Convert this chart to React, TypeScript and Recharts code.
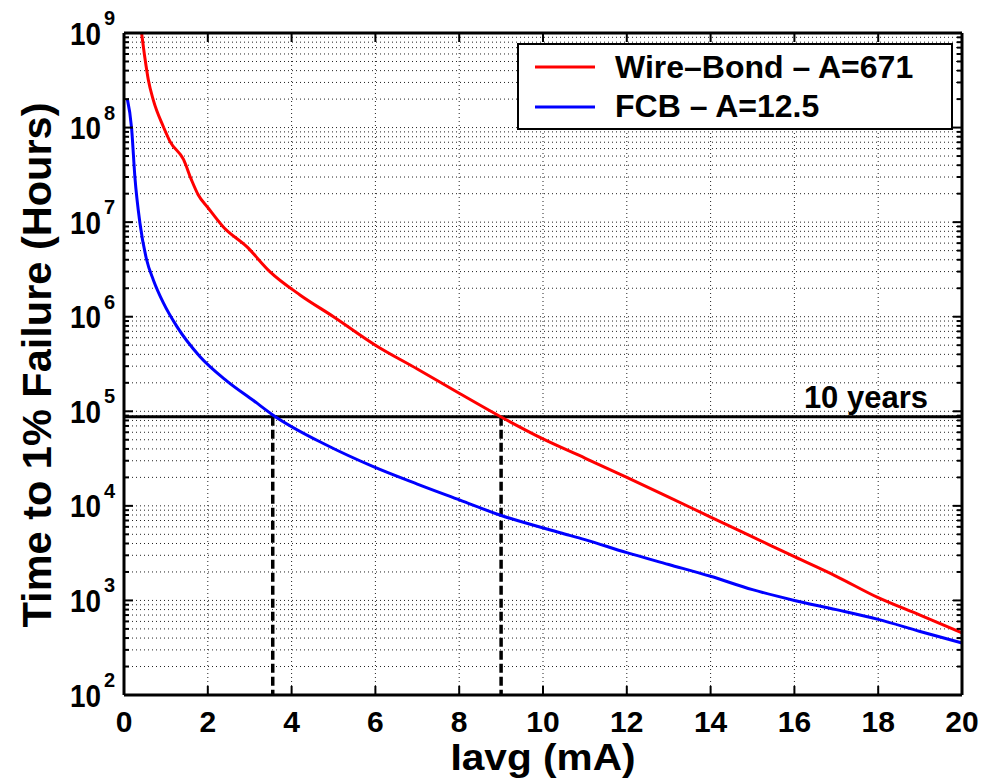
import React from 'react';
import { LineChart, Line, XAxis, YAxis, CartesianGrid, ReferenceLine, Legend } from 'recharts';

// Wire-Bond (A=671) curve
const wireBondCurrent = [0.42, 0.5, 0.58, 0.7, 0.94, 1.1, 1.42, 1.61, 1.77, 2.01, 2.37, 2.93, 3.48, 4.2, 5, 6, 7, 8, 9, 10, 11, 12, 13, 14, 15, 16, 17, 18, 19, 20];
const wireBondHours = [1e9, 5.4e8, 3.2e8, 1.95e8, 1.02e8, 7.1e7, 4.6e7, 2.8e7, 1.95e7, 1.41e7, 8.9e6, 5.5e6, 3.0e6, 1.7e6, 1.0e6, 5.0e5, 2.8e5, 1.55e5, 8.7e4, 5.1e4, 3.2e4, 2.0e4, 1.24e4, 7.6e3, 4.7e3, 2.9e3, 1.8e3, 1.07e3, 700, 454];

// FCB (A=12.5) curve
const fcbCurrent = [0.08, 0.18, 0.26, 0.38, 0.54, 0.7, 0.94, 1.26, 1.81, 2.45, 3.09, 3.56, 4.83, 5.95, 7, 8.02, 8.97, 10.41, 11, 12, 13, 14, 15, 16, 17, 18, 19, 20];
const fcbHours = [2.0e8, 1.0e8, 3.0e7, 9.8e6, 4.0e6, 2.45e6, 1.4e6, 7.9e5, 3.8e5, 2.1e5, 1.3e5, 9.1e4, 4.4e4, 2.6e4, 1.7e4, 1.15e4, 8.0e3, 5.2e3, 4.4e3, 3.2e3, 2.4e3, 1.8e3, 1.3e3, 1.0e3, 800, 630, 470, 355];

const seriesNames = ['Wire–Bond – A=671', 'FCB – A=12.5'];
const xTicks = [0, 2, 4, 6, 8, 10, 12, 14, 16, 18, 20];
const decades = [2, 3, 4, 5, 6, 7, 8, 9];
const minorSteps = [1, 2, 3, 4, 5, 6, 7, 8, 9];
const tenYearsHours = 87600;
const crossingCurrents = [3.55, 9.0];

const yTicks = decades.flatMap((d) => (d === 9 ? [1e9] : minorSteps.map((k) => k * 10 ** d)));

const wireBondData = wireBondCurrent.map((x, i) => ({ x, y: wireBondHours[i] }));
const fcbData = fcbCurrent.map((x, i) => ({ x, y: fcbHours[i] }));

const FONT = '"Liberation Sans", Arial, Helvetica, sans-serif';

const isDecade = (v: number) => {
  const e = Math.round(Math.log10(v));
  return Math.abs(v - 10 ** e) < v * 1e-6;
};

const LeftTick = ({ x, y, payload }: any) => {
  const v = payload.value;
  const major = isDecade(v);
  const exp = Math.round(Math.log10(v));
  return (
    <g>
      <line x1={x} x2={x + (major ? 9 : 5)} y1={y} y2={y} stroke="#000" strokeWidth={2} />
      {major && (
        <g fontFamily={FONT} fontWeight="bold" fill="#000">
          <text x={x - 23} y={y + 1} textAnchor="end" dominantBaseline="central" fontSize={31} textLength={31} lengthAdjust="spacingAndGlyphs">
            10
          </text>
          <text x={x - 20} y={y - 15} dominantBaseline="central" fontSize={20}>
            {exp}
          </text>
        </g>
      )}
    </g>
  );
};

const RightTick = ({ x, y, payload }: any) => {
  const major = isDecade(payload.value);
  return <line x1={x} x2={x - (major ? 9 : 5)} y1={y} y2={y} stroke="#000" strokeWidth={2} />;
};

const BottomTick = ({ x, y, payload }: any) => (
  <g>
    <line x1={x} x2={x} y1={y} y2={y - 9} stroke="#000" strokeWidth={2} />
    <text x={x} y={y + 26} textAnchor="middle" dominantBaseline="central" fontFamily={FONT} fontWeight="bold" fontSize={30} fill="#000">
      {payload.value}
    </text>
  </g>
);

const TopTick = ({ x, y }: any) => <line x1={x} x2={x} y1={y} y2={y + 9} stroke="#000" strokeWidth={2} />;

const renderLegend = ({ payload }: any) => {
  const items = [...(payload || [])].sort((a: any, b: any) => seriesNames.indexOf(a.value) - seriesNames.indexOf(b.value));
  return (
    <svg width={436} height={87} style={{ display: 'block' }}>
      <rect x={1} y={1} width={434} height={85} fill="#fff" stroke="#000" strokeWidth={2} />
      {items.map((entry: any, i: number) => (
        <g key={entry.value}>
          <line x1={18} x2={78} y1={24 + i * 40} y2={24 + i * 40} stroke={entry.color} strokeWidth={3} />
          <text x={98} y={35 + i * 39} fontFamily={FONT} fontWeight="bold" fontSize={32} fill="#000">
            {entry.value}
          </text>
        </g>
      ))}
    </svg>
  );
};

export default function App() {
  return (
    <div style={{ width: 980, height: 772, background: '#fff' }}>
      <LineChart width={980} height={772} margin={{ top: 0, right: 0, bottom: 0, left: 0 }}>
        <CartesianGrid stroke="#222" strokeDasharray="1 3" strokeWidth={1} />
        <XAxis
          dataKey="x"
          type="number"
          domain={[0, 20]}
          ticks={xTicks}
          interval={0}
          allowDataOverflow
          height={85}
          tickSize={0}
          tickMargin={0}
          tick={<BottomTick />}
          axisLine={{ stroke: '#000', strokeWidth: 3 }}
          label={{
            content: ({ viewBox }: any) => (
              <text
                x={viewBox.x + viewBox.width / 2}
                y={viewBox.y + 75}
                textAnchor="middle"
                fontFamily={FONT}
                fontWeight="bold"
                fontSize={36}
                textLength={185}
                lengthAdjust="spacingAndGlyphs"
                fill="#000"
              >
                Iavg (mA)
              </text>
            ),
          }}
        />
        <XAxis
          xAxisId="top"
          orientation="top"
          dataKey="x"
          type="number"
          domain={[0, 20]}
          ticks={xTicks}
          interval={0}
          allowDataOverflow
          height={25}
          tickSize={0}
          tickMargin={0}
          tick={<TopTick />}
          axisLine={{ stroke: '#000', strokeWidth: 3 }}
        />
        <YAxis
          scale="log"
          type="number"
          domain={[100, 1e9]}
          ticks={yTicks}
          interval={0}
          allowDataOverflow
          width={116}
          tickSize={0}
          tickMargin={0}
          tick={<LeftTick />}
          axisLine={{ stroke: '#000', strokeWidth: 3 }}
          label={{
            content: ({ viewBox }: any) => {
              const cx = 43;
              const cy = viewBox.y + viewBox.height / 2 + 1;
              return (
                <text
                  x={cx}
                  y={cy}
                  transform={`rotate(-90, ${cx}, ${cy})`}
                  textAnchor="middle"
                  fontFamily={FONT}
                  fontWeight="bold"
                  fontSize={40}
                  textLength={525}
                  lengthAdjust="spacingAndGlyphs"
                  fill="#000"
                >
                  Time to 1% Failure (Hours)
                </text>
              );
            },
          }}
        />
        <YAxis
          yAxisId="right"
          orientation="right"
          scale="log"
          type="number"
          domain={[100, 1e9]}
          ticks={yTicks}
          interval={0}
          allowDataOverflow
          width={26}
          tickSize={0}
          tickMargin={0}
          tick={<RightTick />}
          axisLine={{ stroke: '#000', strokeWidth: 3 }}
        />
        <ReferenceLine
          y={tenYearsHours}
          stroke="#000"
          strokeWidth={3}
          label={{
            content: ({ viewBox }: any) => (
              <text
                x={viewBox.x + viewBox.width - 34}
                y={viewBox.y - 9}
                textAnchor="end"
                fontFamily={FONT}
                fontWeight="bold"
                fontSize={31}
                fill="#000"
              >
                10 years
              </text>
            ),
          }}
        />
        {crossingCurrents.map((c) => (
          <ReferenceLine
            key={c}
            segment={[
              { x: c, y: tenYearsHours },
              { x: c, y: 100 },
            ]}
            stroke="#000"
            strokeWidth={3.5}
            strokeDasharray="9 4"
          />
        ))}
        <Line
          data={wireBondData}
          dataKey="y"
          name={seriesNames[0]}
          type="monotone"
          stroke="#ff0000"
          strokeWidth={3}
          dot={false}
          activeDot={false}
          isAnimationActive={false}
        />
        <Line
          data={fcbData}
          dataKey="y"
          name={seriesNames[1]}
          type="monotone"
          stroke="#0000ff"
          strokeWidth={3}
          dot={false}
          activeDot={false}
          isAnimationActive={false}
        />
        <Legend
          layout="vertical"
          align="center"
          verticalAlign="middle"
          content={renderLegend}
          wrapperStyle={{ position: 'absolute', top: 35, left: 509, width: 436, height: 87 }}
        />
      </LineChart>
    </div>
  );
}
